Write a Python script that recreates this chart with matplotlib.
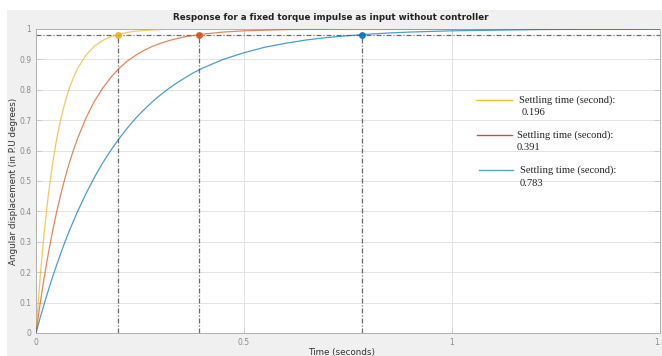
import matplotlib
matplotlib.use("Agg")
import matplotlib.pyplot as plt
from matplotlib.patches import Rectangle
from matplotlib.lines import Line2D

# Step responses (angular displacement, P.U.) sampled over time
time_s = [0, 0.01, 0.02, 0.03, 0.04, 0.05, 0.06, 0.07, 0.08, 0.09, 0.10,
          0.12, 0.14, 0.16, 0.18, 0.20, 0.22, 0.24, 0.26, 0.28, 0.30,
          0.32, 0.34, 0.36, 0.38, 0.40, 0.45, 0.50, 0.55, 0.60, 0.65,
          0.70, 0.75, 0.80, 0.85, 0.90, 0.95, 1.0, 1.1, 1.2, 1.3, 1.4, 1.5]
resp_fast = [0, 0.185, 0.335, 0.458, 0.558, 0.640, 0.706, 0.760, 0.805, 0.840, 0.870,
             0.914, 0.943, 0.962, 0.975, 0.983, 0.989, 0.993, 0.995, 0.997, 0.998,
             0.999, 0.999, 0.999, 1.0, 1.0, 1.0, 1.0, 1.0, 1.0, 1.0,
             1.0, 1.0, 1.0, 1.0, 1.0, 1.0, 1.0, 1.0, 1.0, 1.0, 1.0, 1.0]
resp_mid = [0, 0.097, 0.185, 0.264, 0.336, 0.400, 0.459, 0.511, 0.559, 0.601, 0.640,
            0.707, 0.761, 0.805, 0.841, 0.871, 0.895, 0.914, 0.930, 0.943, 0.953,
            0.962, 0.969, 0.975, 0.979, 0.983, 0.990, 0.994, 0.996, 0.998, 0.999,
            0.999, 1.0, 1.0, 1.0, 1.0, 1.0, 1.0, 1.0, 1.0, 1.0, 1.0, 1.0]
resp_slow = [0, 0.050, 0.097, 0.142, 0.185, 0.225, 0.264, 0.301, 0.336, 0.368, 0.400,
             0.458, 0.511, 0.559, 0.601, 0.640, 0.675, 0.707, 0.735, 0.761, 0.784,
             0.805, 0.824, 0.841, 0.857, 0.871, 0.900, 0.922, 0.940, 0.953, 0.964,
             0.972, 0.978, 0.983, 0.987, 0.990, 0.992, 0.994, 0.996, 0.998, 0.999,
             0.999, 1.0]

settling_times = [0.196, 0.391, 0.783]
settling_level = 0.98
curve_colors = ["#EDB120", "#D95319", "#0072BD"]
legend_colors = ["#F2C12E", "#C0504D", "#4BACC6"]

x_ticks = [0, 0.5, 1, 1.5]
x_tick_labels = ["0", "0.5", "1", "1.5"]
y_ticks = [0, 0.1, 0.2, 0.3, 0.4, 0.5, 0.6, 0.7, 0.8, 0.9, 1]
y_tick_labels = ["0", "0.1", "0.2", "0.3", "0.4", "0.5", "0.6", "0.7", "0.8", "0.9", "1"]

W, H = 662, 356
fig = plt.figure(figsize=(W / 100, H / 100), dpi=100, facecolor="white")

# grey window background
fig.patches.append(Rectangle((7 / W, 0), 1, 1 - 10 / H, transform=fig.transFigure,
                             facecolor="#f0f0f0", edgecolor="none", zorder=-10))

ax_l, ax_r = 36 / W, 660 / W
ax_b, ax_t = 1 - 333 / H, 1 - 29 / H
ax = fig.add_axes([ax_l, ax_b, ax_r - ax_l, ax_t - ax_b])
ax.set_zorder(1)
ax.set_facecolor("white")
ax.set_xlim(0, 1.5)
ax.set_ylim(0, 1)

ax.grid(True, color="#e3e3e3", linewidth=0.7)
ax.set_axisbelow(True)

for resp, c in zip([resp_fast, resp_mid, resp_slow], curve_colors):
    ax.plot(time_s, resp, color=c, linewidth=0.9, alpha=0.7, zorder=3)

dashdot = (0, (4, 1.5, 1, 1.5))
ax.axhline(settling_level, color="#6a6a6a", linewidth=0.9, linestyle=dashdot,
           zorder=2)
for ts, c in zip(settling_times, curve_colors):
    ax.plot([ts, ts], [0, settling_level], color="#6a6a6a", linewidth=0.9,
            linestyle=dashdot, zorder=2)
    ax.plot([ts], [settling_level], marker="o", markersize=4, color=c,
            zorder=4, alpha=0.85)

ax.set_xticks(x_ticks)
ax.set_xticklabels(x_tick_labels)
ax.set_yticks(y_ticks)
ax.set_yticklabels(y_tick_labels)
ax.tick_params(direction="in", length=4, width=0.6, colors="#c8c8c8",
               labelcolor="#8a8a8a", labelsize=5.5, top=True, right=True)
for s in ax.spines.values():
    s.set_color("#b0b0b0")
    s.set_linewidth(0.7)

fig.text(0.5, 1 - 17 / H,
         "Response for a fixed torque impulse as input without controller",
         ha="center", va="center", fontsize=6.3, fontweight="bold", color="#222222")
fig.text(342 / W, 1 - 353 / H, "Time (seconds)", ha="center", va="center",
         fontsize=6.3, color="#333333")
fig.text(14 / W, 1 - 181 / H, "Angular displacement (in P.U degrees)",
         ha="center", va="center", rotation=90, fontsize=6.3, color="#333333")

# settling-time legend
entries = [("0.196", 100, 476, 512, 519, 522),
           ("0.391", 135, 477, 512, 517, 517),
           ("0.783", 170, 479, 513, 520, 520)]
for (val, y, x0, x1, tx, vx), c in zip(entries, legend_colors):
    fig.add_artist(Line2D([x0 / W, x1 / W], [1 - y / H, 1 - y / H],
                          transform=fig.transFigure, color=c, linewidth=1.0,
                          zorder=5))
    fig.text(tx / W, 1 - y / H, "Settling time (second):", ha="left",
             va="center", fontsize=7.6, family="Liberation Serif",
             color="#222222", zorder=5)
    fig.text(vx / W, 1 - (y + 13) / H, val, ha="left", va="center",
             fontsize=7.6, family="Liberation Serif", color="#222222", zorder=5)

fig.savefig("out.png", dpi=100, facecolor=fig.get_facecolor())
